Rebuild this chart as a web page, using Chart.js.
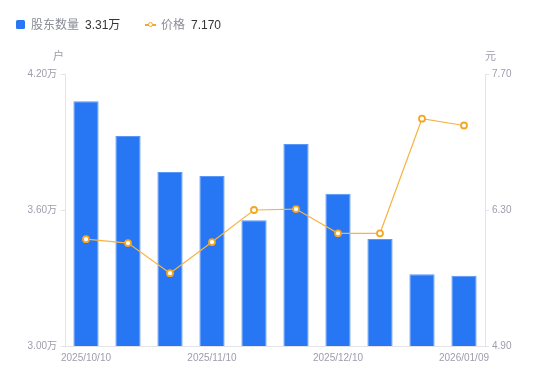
<!DOCTYPE html>
<html>
<head>
<meta charset="utf-8">
<script src="https://cdn.jsdelivr.net/npm/chart.js@4/dist/chart.umd.min.js"></script>
<style>
  html, body { margin: 0; padding: 0; background: #fff; }
  #wrap { position: relative; width: 550px; height: 381px; }
  #legend { position: absolute; left: 16px; top: 16px; height: 18px; font-family: "Liberation Sans", "Noto Sans CJK SC", sans-serif; font-size: 12px; line-height: 18px; white-space: nowrap; }
  #legend .item { position: absolute; top: 0; }
  #legend .lab { color: #8b8b99; }
  #legend .val { color: #333; margin-left: 6px; }
  .sq { display: inline-block; width: 9px; height: 9px; background: #2777f5; border-radius: 1.5px; vertical-align: -0px; margin-right: 6px; }
  .ln { display: inline-block; position: relative; width: 11px; height: 9px; margin-right: 5px; vertical-align: 0px; }
  .ln::before { content: ""; position: absolute; left: 0; right: 0; top: 4px; height: 1.5px; background: #f5a623; }
  .ln::after { content: ""; position: absolute; left: 2.5px; top: 1.5px; width: 3px; height: 3px; border: 1.7px solid #f5a623; border-radius: 50%; background: #fff; }
</style>
</head>
<body>
<div id="wrap">
  <canvas id="c" width="550" height="381"></canvas>
  <div id="legend"></div>
</div>
<script>
const categories = ["2025/10/10","2025/10/20","2025/10/31","2025/11/10","2025/11/20","2025/11/28","2025/12/10","2025/12/19","2025/12/31","2026/01/09"];
const holders = [4.080, 3.926, 3.768, 3.750, 3.555, 3.891, 3.672, 3.472, 3.316, 3.310];
const prices = [6.00, 5.96, 5.65, 5.97, 6.30, 6.31, 6.06, 6.06, 7.24, 7.17];
const leftTicks = [3.00, 3.60, 4.20];
const rightTicks = [4.90, 6.30, 7.70];
const seriesNames = ["股东数量", "价格"];
const units = ["户", "元"];
const legendValues = ["3.31万", "7.170"];

const FONT = '"Liberation Sans", "Noto Sans CJK SC", sans-serif';
const TICK_COLOR = '#9d9dad';
const AXIS_COLOR = '#e3e3e8';

// legend
const lg = document.getElementById('legend');
lg.innerHTML =
  '<span class="item" style="left:0px"><span class="sq"></span><span class="lab">' + seriesNames[0] + '</span><span class="val">' + legendValues[0] + '</span></span>' +
  '<span class="item" style="left:129px"><span class="ln"></span><span class="lab">' + seriesNames[1] + '</span><span class="val">' + legendValues[1] + '</span></span>';

const unitPlugin = {
  id: 'units',
  afterDraw(chart) {
    const ctx = chart.ctx;
    const a = chart.chartArea;
    ctx.save();
    ctx.font = '11px ' + FONT;
    ctx.fillStyle = TICK_COLOR;
    ctx.textBaseline = 'middle';
    ctx.textAlign = 'right';
    ctx.fillText(units[0], a.left - 1, 57);
    ctx.textAlign = 'left';
    ctx.fillText(units[1], a.right, 57);
    ctx.restore();
  }
};

new Chart(document.getElementById('c'), {
  data: {
    labels: categories,
    datasets: [
      {
        type: 'line',
        label: seriesNames[1],
        data: prices,
        yAxisID: 'yR',
        borderColor: '#f7b445',
        borderWidth: 1.2,
        pointRadius: 3,
        pointBorderWidth: 1.8,
        pointBackgroundColor: '#fff',
        pointBorderColor: '#f5a623',
        tension: 0,
        order: 1
      },
      {
        type: 'bar',
        label: seriesNames[0],
        data: holders,
        yAxisID: 'yL',
        backgroundColor: '#2777f5',
        borderColor: '#5a97f7',
        borderWidth: 1,
        barPercentage: 0.6,
        categoryPercentage: 1,
        order: 2
      }
    ]
  },
  options: {
    responsive: false,
    animation: false,
    events: [],
    layout: { padding: { top: 74, bottom: 0, left: 0, right: 0 } },
    plugins: { legend: { display: false }, tooltip: { enabled: false } },
    scales: {
      x: {
        type: 'category',
        offset: true,
        grid: { display: false, drawTicks: false },
        border: { display: true, color: AXIS_COLOR },
        ticks: {
          autoSkip: false, maxRotation: 0, padding: 6,
          color: TICK_COLOR, font: { size: 10, family: FONT },
          callback: (v, i) => (i % 3 === 0 ? categories[i] : '')
        },
        afterFit: s => { s.height = 35; }
      },
      yL: {
        type: 'linear', position: 'left',
        min: leftTicks[0], max: leftTicks[leftTicks.length - 1],
        afterBuildTicks: s => { s.ticks = leftTicks.map(v => ({ value: v })); },
        grid: { drawOnChartArea: false, drawTicks: true, tickLength: 4, color: AXIS_COLOR },
        border: { display: true, color: AXIS_COLOR },
        ticks: { padding: 4, color: TICK_COLOR, font: { size: 10, family: FONT }, callback: v => v.toFixed(2) + '万' },
        afterFit: s => { s.width = 65; }
      },
      yR: {
        type: 'linear', position: 'right',
        min: rightTicks[0], max: rightTicks[rightTicks.length - 1],
        afterBuildTicks: s => { s.ticks = rightTicks.map(v => ({ value: v })); },
        grid: { drawOnChartArea: false, drawTicks: true, tickLength: 4, color: AXIS_COLOR },
        border: { display: true, color: AXIS_COLOR },
        ticks: { padding: 3, color: TICK_COLOR, font: { size: 10, family: FONT }, callback: v => v.toFixed(2) },
        afterFit: s => { s.width = 65; }
      }
    }
  },
  plugins: [unitPlugin]
});
</script>
</body>
</html>
